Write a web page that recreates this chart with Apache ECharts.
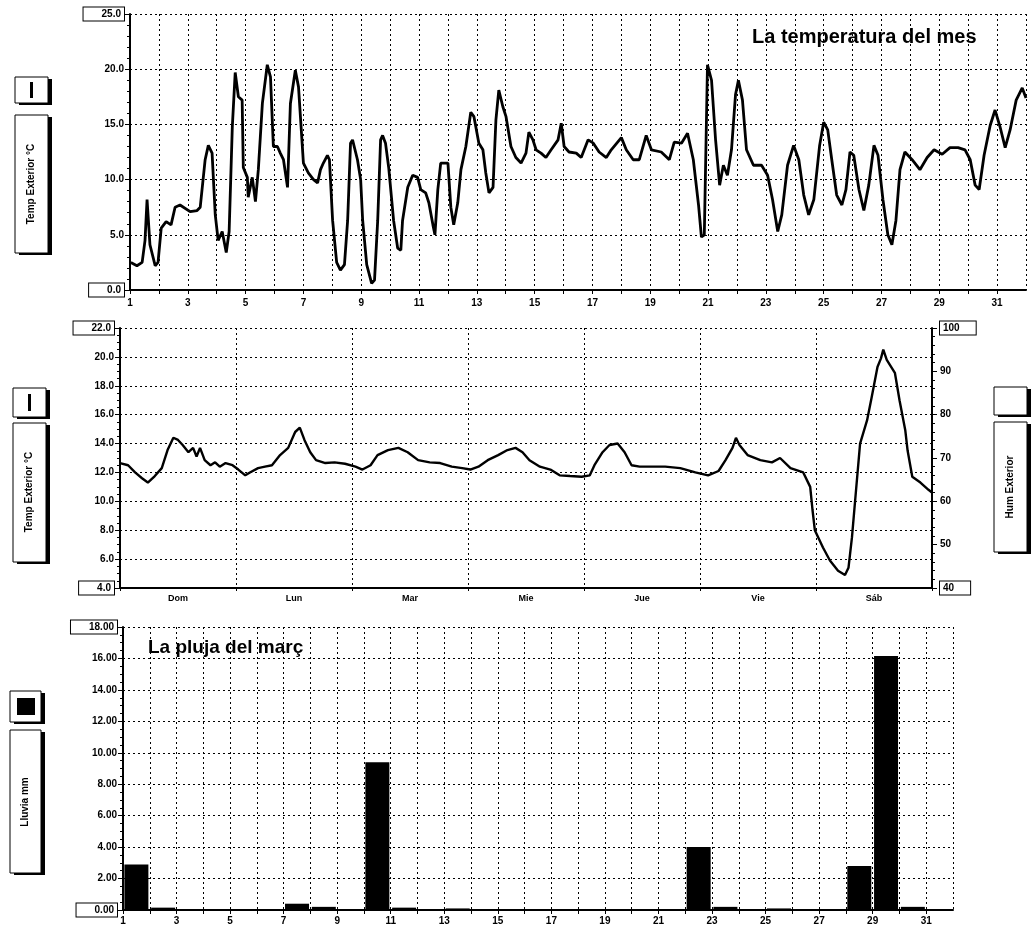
<!DOCTYPE html>
<html><head><meta charset="utf-8">
<script src="https://cdn.jsdelivr.net/npm/echarts@6/dist/echarts.min.js"></script>
<style>html,body{margin:0;padding:0;background:#fff}#c{width:1033px;height:928px}</style>
</head><body><div id="c"></div><script>
// ---------- DATA ----------
// Monthly temperature (day of month, °C)
const monthDay = [1.03,1.24,1.42,1.52,1.59,1.69,1.87,1.97,2.08,2.25,2.42,2.56,2.73,3.08,3.32,3.43,3.60,3.71,3.84,3.95,4.05,4.19,4.33,4.43,4.54,4.64,4.75,4.88,4.92,5.06,5.09,5.23,5.34,5.44,5.58,5.75,5.86,5.96,6.10,6.20,6.31,6.45,6.55,6.72,6.83,7.00,7.17,7.35,7.49,7.59,7.69,7.83,7.90,8.01,8.15,8.28,8.42,8.53,8.63,8.70,8.87,8.98,9.05,9.19,9.36,9.46,9.57,9.67,9.74,9.84,9.95,10.12,10.26,10.37,10.43,10.61,10.78,10.95,11.06,11.23,11.34,11.48,11.55,11.65,11.75,12.00,12.10,12.20,12.34,12.45,12.62,12.79,12.90,13.07,13.21,13.31,13.42,13.56,13.66,13.76,13.90,14.01,14.18,14.35,14.53,14.70,14.80,14.94,15.05,15.22,15.39,15.57,15.81,15.92,16.02,16.19,16.44,16.61,16.85,17.03,17.23,17.48,17.65,18.00,18.17,18.41,18.62,18.86,19.04,19.38,19.66,19.83,20.08,20.29,20.49,20.67,20.77,20.87,20.98,21.12,21.26,21.40,21.53,21.67,21.81,21.95,22.05,22.19,22.33,22.57,22.85,23.06,23.23,23.41,23.55,23.75,23.96,24.14,24.31,24.48,24.66,24.86,25.00,25.14,25.28,25.45,25.63,25.77,25.91,26.04,26.22,26.39,26.56,26.74,26.88,27.05,27.22,27.36,27.50,27.64,27.81,28.06,28.33,28.58,28.82,29.10,29.37,29.65,29.89,30.07,30.24,30.38,30.55,30.76,30.93,31.11,31.28,31.45,31.66,31.87,32.0];
const monthTemp = [2.5,2.2,2.5,4.5,8.2,4.1,2.2,2.5,5.6,6.2,5.9,7.5,7.7,7.1,7.2,7.5,11.8,13.1,12.4,6.8,4.5,5.3,3.4,5.3,14.8,19.7,17.5,17.2,11.1,10.2,8.4,10.2,8.0,10.9,16.9,20.4,19.3,13.0,13.0,12.4,11.8,9.3,16.9,19.9,18.4,11.5,10.6,10.0,9.7,10.9,11.5,12.2,11.8,6.3,2.5,1.8,2.3,6.3,13.3,13.6,11.8,10.0,6.3,2.3,0.6,0.9,6.3,13.6,14.0,13.3,11.1,6.3,3.8,3.6,6.3,9.3,10.4,10.2,9.1,8.8,7.9,5.9,5.0,9.1,11.5,11.5,7.5,5.9,7.9,10.9,13.0,16.1,15.7,13.3,12.7,10.6,8.8,9.3,15.4,18.1,16.6,15.7,13.0,12.0,11.5,12.4,14.3,13.6,12.7,12.4,12.0,12.7,13.6,15.1,13.0,12.5,12.4,12.0,13.6,13.3,12.5,12.0,12.7,13.8,12.7,11.8,11.8,14.0,12.7,12.5,11.8,13.4,13.3,14.2,11.8,7.7,4.8,5.0,20.4,19.0,13.6,9.5,11.3,10.4,12.7,17.7,19.0,17.2,12.7,11.3,11.3,10.4,8.2,5.3,6.8,11.3,13.1,11.8,8.6,6.8,8.2,13.1,15.2,14.5,11.8,8.6,7.7,9.1,12.5,12.2,9.1,7.2,9.5,13.1,12.2,8.2,5.0,4.1,6.3,10.9,12.5,11.8,10.9,12.0,12.7,12.3,12.9,12.9,12.7,11.8,9.5,9.1,12.2,14.9,16.3,14.7,12.9,14.5,17.2,18.3,17.4];

// Weekly temperature (days since start of week, °C)
const weekNames = ['Dom','Lun','Mar','Mie','Jue','Vie','Sáb'];
const weekT = [0,0.07,0.13,0.19,0.24,0.30,0.36,0.41,0.46,0.50,0.54,0.59,0.63,0.66,0.69,0.73,0.78,0.82,0.86,0.91,0.97,1.02,1.08,1.12,1.19,1.25,1.31,1.38,1.45,1.51,1.55,1.59,1.64,1.69,1.77,1.85,1.94,2.03,2.09,2.16,2.22,2.31,2.40,2.48,2.57,2.67,2.76,2.86,2.95,3.02,3.09,3.17,3.26,3.34,3.41,3.47,3.53,3.62,3.71,3.79,3.88,3.98,4.05,4.09,4.16,4.22,4.29,4.35,4.41,4.48,4.59,4.70,4.83,4.96,5.07,5.16,5.22,5.28,5.31,5.34,5.41,5.52,5.62,5.69,5.78,5.89,5.95,5.97,5.99,6.06,6.12,6.19,6.25,6.28,6.31,6.34,6.38,6.44,6.48,6.53,6.56,6.58,6.61,6.68,6.72,6.77,6.79,6.83,6.90,6.97,7.0];
const weekTemp = [12.65,12.5,12.0,11.6,11.3,11.75,12.3,13.55,14.4,14.25,13.9,13.4,13.7,13.1,13.7,12.85,12.5,12.7,12.4,12.65,12.5,12.2,11.8,12.0,12.3,12.4,12.5,13.2,13.7,14.8,15.1,14.25,13.4,12.85,12.65,12.7,12.6,12.4,12.2,12.5,13.2,13.55,13.7,13.4,12.85,12.7,12.65,12.4,12.3,12.2,12.4,12.85,13.2,13.55,13.7,13.4,12.85,12.4,12.2,11.8,11.75,11.7,11.8,12.5,13.4,13.9,14.0,13.4,12.5,12.4,12.4,12.4,12.3,12.0,11.8,12.1,12.85,13.7,14.4,13.9,13.2,12.85,12.7,13.0,12.3,12.0,11.0,9.4,8.0,6.8,5.9,5.2,4.9,5.4,7.5,10.3,14.0,15.6,17.2,19.3,19.9,20.5,19.8,18.9,17.0,14.9,13.5,11.7,11.3,10.8,10.6];

// Daily rain (mm), days 1..31
const rainDays = [1,2,3,4,5,6,7,8,9,10,11,12,13,14,15,16,17,18,19,20,21,22,23,24,25,26,27,28,29,30,31];
const rainMm   = [2.9,0.15,0,0,0,0,0.4,0.2,0,9.4,0.15,0,0.1,0,0,0,0,0,0,0,0,4.0,0.2,0.05,0.1,0,0,2.8,16.15,0.2,0];

// Labels
const topTitle = 'La temperatura del mes';
const bottomTitle = 'La pluja del març';
const tempLabel = 'Temp Exterior °C';
const humLabel = 'Hum Exterior';
const rainLabel = 'Lluvia mm';

// ---------- CHART ----------
const FONT = '"Liberation Sans", Arial, sans-serif';
const chart = echarts.init(document.getElementById('c'), null, {renderer:'canvas', width:1033, height:928});

const dash = {show:true, lineStyle:{color:'#000', width:1, type:[2,3]}};
const axLine = {show:true, onZero:false, lineStyle:{color:'#000', width:2}};
const lblBase = {color:'#000', fontFamily:FONT, fontWeight:'bold', fontSize:10};
const boxRich = {b:{color:'#000', fontFamily:FONT, fontWeight:'bold', fontSize:10, borderColor:'#000', borderWidth:1, padding:[2,3,1,18], backgroundColor:'#fff'}};
function boxed(minV, maxV, digits){
  return function(v){ const s = v.toFixed(digits); return (Math.abs(v-minV)<1e-9||Math.abs(v-maxV)<1e-9) ? '{b|'+s+'}' : s; };
}
function oddDays(v){ return (Math.round(v)%2===1 && v<32) ? String(Math.round(v)) : ''; }

const gL = (x,y,w,h) => [
  {type:'rect', shape:{x:x+4,y:y+2,width:w,height:h}, style:{fill:'#000'}},
  {type:'rect', shape:{x:x,y:y,width:w,height:h}, style:{fill:'#fff', stroke:'#000', lineWidth:1}}
];
const vText = (x,y,t) => ({type:'text', x:x, y:y, rotation:Math.PI/2, style:{text:t, fill:'#000', font:'bold 10px '+FONT, align:'center', verticalAlign:'middle'}});

const graphics = [].concat(
  gL(15,77,33,26), [{type:'rect', shape:{x:30,y:82,width:3,height:16}, style:{fill:'#000'}}],
  gL(15,115,33,138), [vText(31,184,tempLabel)],
  gL(13,388,33,29), [{type:'rect', shape:{x:28,y:394,width:3,height:17}, style:{fill:'#000'}}],
  gL(13,423,33,139), [vText(29,492,tempLabel)],
  gL(994,387,33,28),
  gL(994,422,33,130), [vText(1010,487,humLabel)],
  gL(10,691,31,31), [{type:'rect', shape:{x:17,y:698,width:18,height:17}, style:{fill:'#000'}}],
  gL(10,730,31,143), [vText(25,802,rainLabel)],
  [{type:'text', left:752, top:27, style:{text:topTitle, fill:'#000', font:'bold 20px '+FONT}}],
  [{type:'text', left:148, top:638, style:{text:bottomTitle, fill:'#000', font:'bold 19px '+FONT}}]
);

const option = {
  backgroundColor:'#fff',
  animation:false,
  grid:[
    {left:130, top:14, width:896, height:276},
    {left:120, top:328, width:812, height:260},
    {left:123, top:627, width:830, height:283}
  ],
  xAxis:[
    {type:'value', gridIndex:0, min:1, max:32, interval:1, axisLine:axLine,
     axisTick:{show:true, length:4, lineStyle:{color:'#000'}}, splitLine:dash,
     axisLabel:Object.assign({formatter:oddDays, margin:8, showMaxLabel:false}, lblBase)},
    {type:'category', gridIndex:1, data:weekNames, boundaryGap:true, axisLine:axLine,
     axisTick:{show:true, length:3, lineStyle:{color:'#000'}}, splitLine:dash,
     axisLabel:Object.assign({margin:6}, lblBase, {fontSize:9})},
    {type:'value', gridIndex:1, min:0, max:7, show:false},
    {type:'value', gridIndex:2, min:1, max:32, interval:1, axisLine:axLine,
     axisTick:{show:true, length:4, lineStyle:{color:'#000'}}, splitLine:dash,
     axisLabel:Object.assign({formatter:oddDays, margin:6, showMaxLabel:false}, lblBase)}
  ],
  yAxis:[
    {type:'value', gridIndex:0, min:0, max:25, interval:5, axisLine:axLine,
     axisTick:{show:true, length:5, lineStyle:{color:'#000'}},
     minorTick:{show:true, splitNumber:5, length:3, lineStyle:{color:'#000'}},
     splitLine:dash, axisLabel:Object.assign({formatter:boxed(0,25,1), rich:boxRich, margin:6}, lblBase)},
    {type:'value', gridIndex:1, min:4, max:22, interval:2, axisLine:axLine,
     axisTick:{show:true, length:5, lineStyle:{color:'#000'}},
     minorTick:{show:true, splitNumber:4, length:3, lineStyle:{color:'#000'}},
     splitLine:dash, axisLabel:Object.assign({formatter:boxed(4,22,1), rich:boxRich, margin:6}, lblBase)},
    {type:'value', gridIndex:1, position:'right', min:40, max:100, interval:10, axisLine:axLine,
     axisTick:{show:true, length:5, lineStyle:{color:'#000'}},
     minorTick:{show:true, splitNumber:5, length:3, lineStyle:{color:'#000'}},
     splitLine:{show:false}, axisLabel:Object.assign({formatter:function(v){const s=String(v);return (v===40||v===100)?'{c|'+s+'}':s;}, rich:{c:{color:'#000', fontFamily:FONT, fontWeight:'bold', fontSize:10, borderColor:'#000', borderWidth:1, padding:[2,16,1,3], backgroundColor:'#fff'}}, margin:8}, lblBase)},
    {type:'value', gridIndex:2, min:0, max:18, interval:2, axisLine:axLine,
     axisTick:{show:true, length:5, lineStyle:{color:'#000'}},
     minorTick:{show:true, splitNumber:4, length:3, lineStyle:{color:'#000'}},
     splitLine:dash, axisLabel:Object.assign({formatter:boxed(0,18,2), rich:boxRich, margin:6}, lblBase)}
  ],
  series:[
    {type:'line', xAxisIndex:0, yAxisIndex:0, symbol:'none', clip:true,
     lineStyle:{color:'#000', width:2.8}, data:monthDay.map((d,i)=>[d, monthTemp[i]])},
    {type:'line', xAxisIndex:2, yAxisIndex:1, symbol:'none',
     lineStyle:{color:'#000', width:2.4}, data:weekT.map((d,i)=>[d, weekTemp[i]])},
    {type:'bar', xAxisIndex:3, yAxisIndex:3, barWidth:24, itemStyle:{color:'#000'},
     data:rainDays.map((d,i)=>[d+0.5, rainMm[i]])}
  ],
  graphic:graphics
};
chart.setOption(option);
</script></body></html>
